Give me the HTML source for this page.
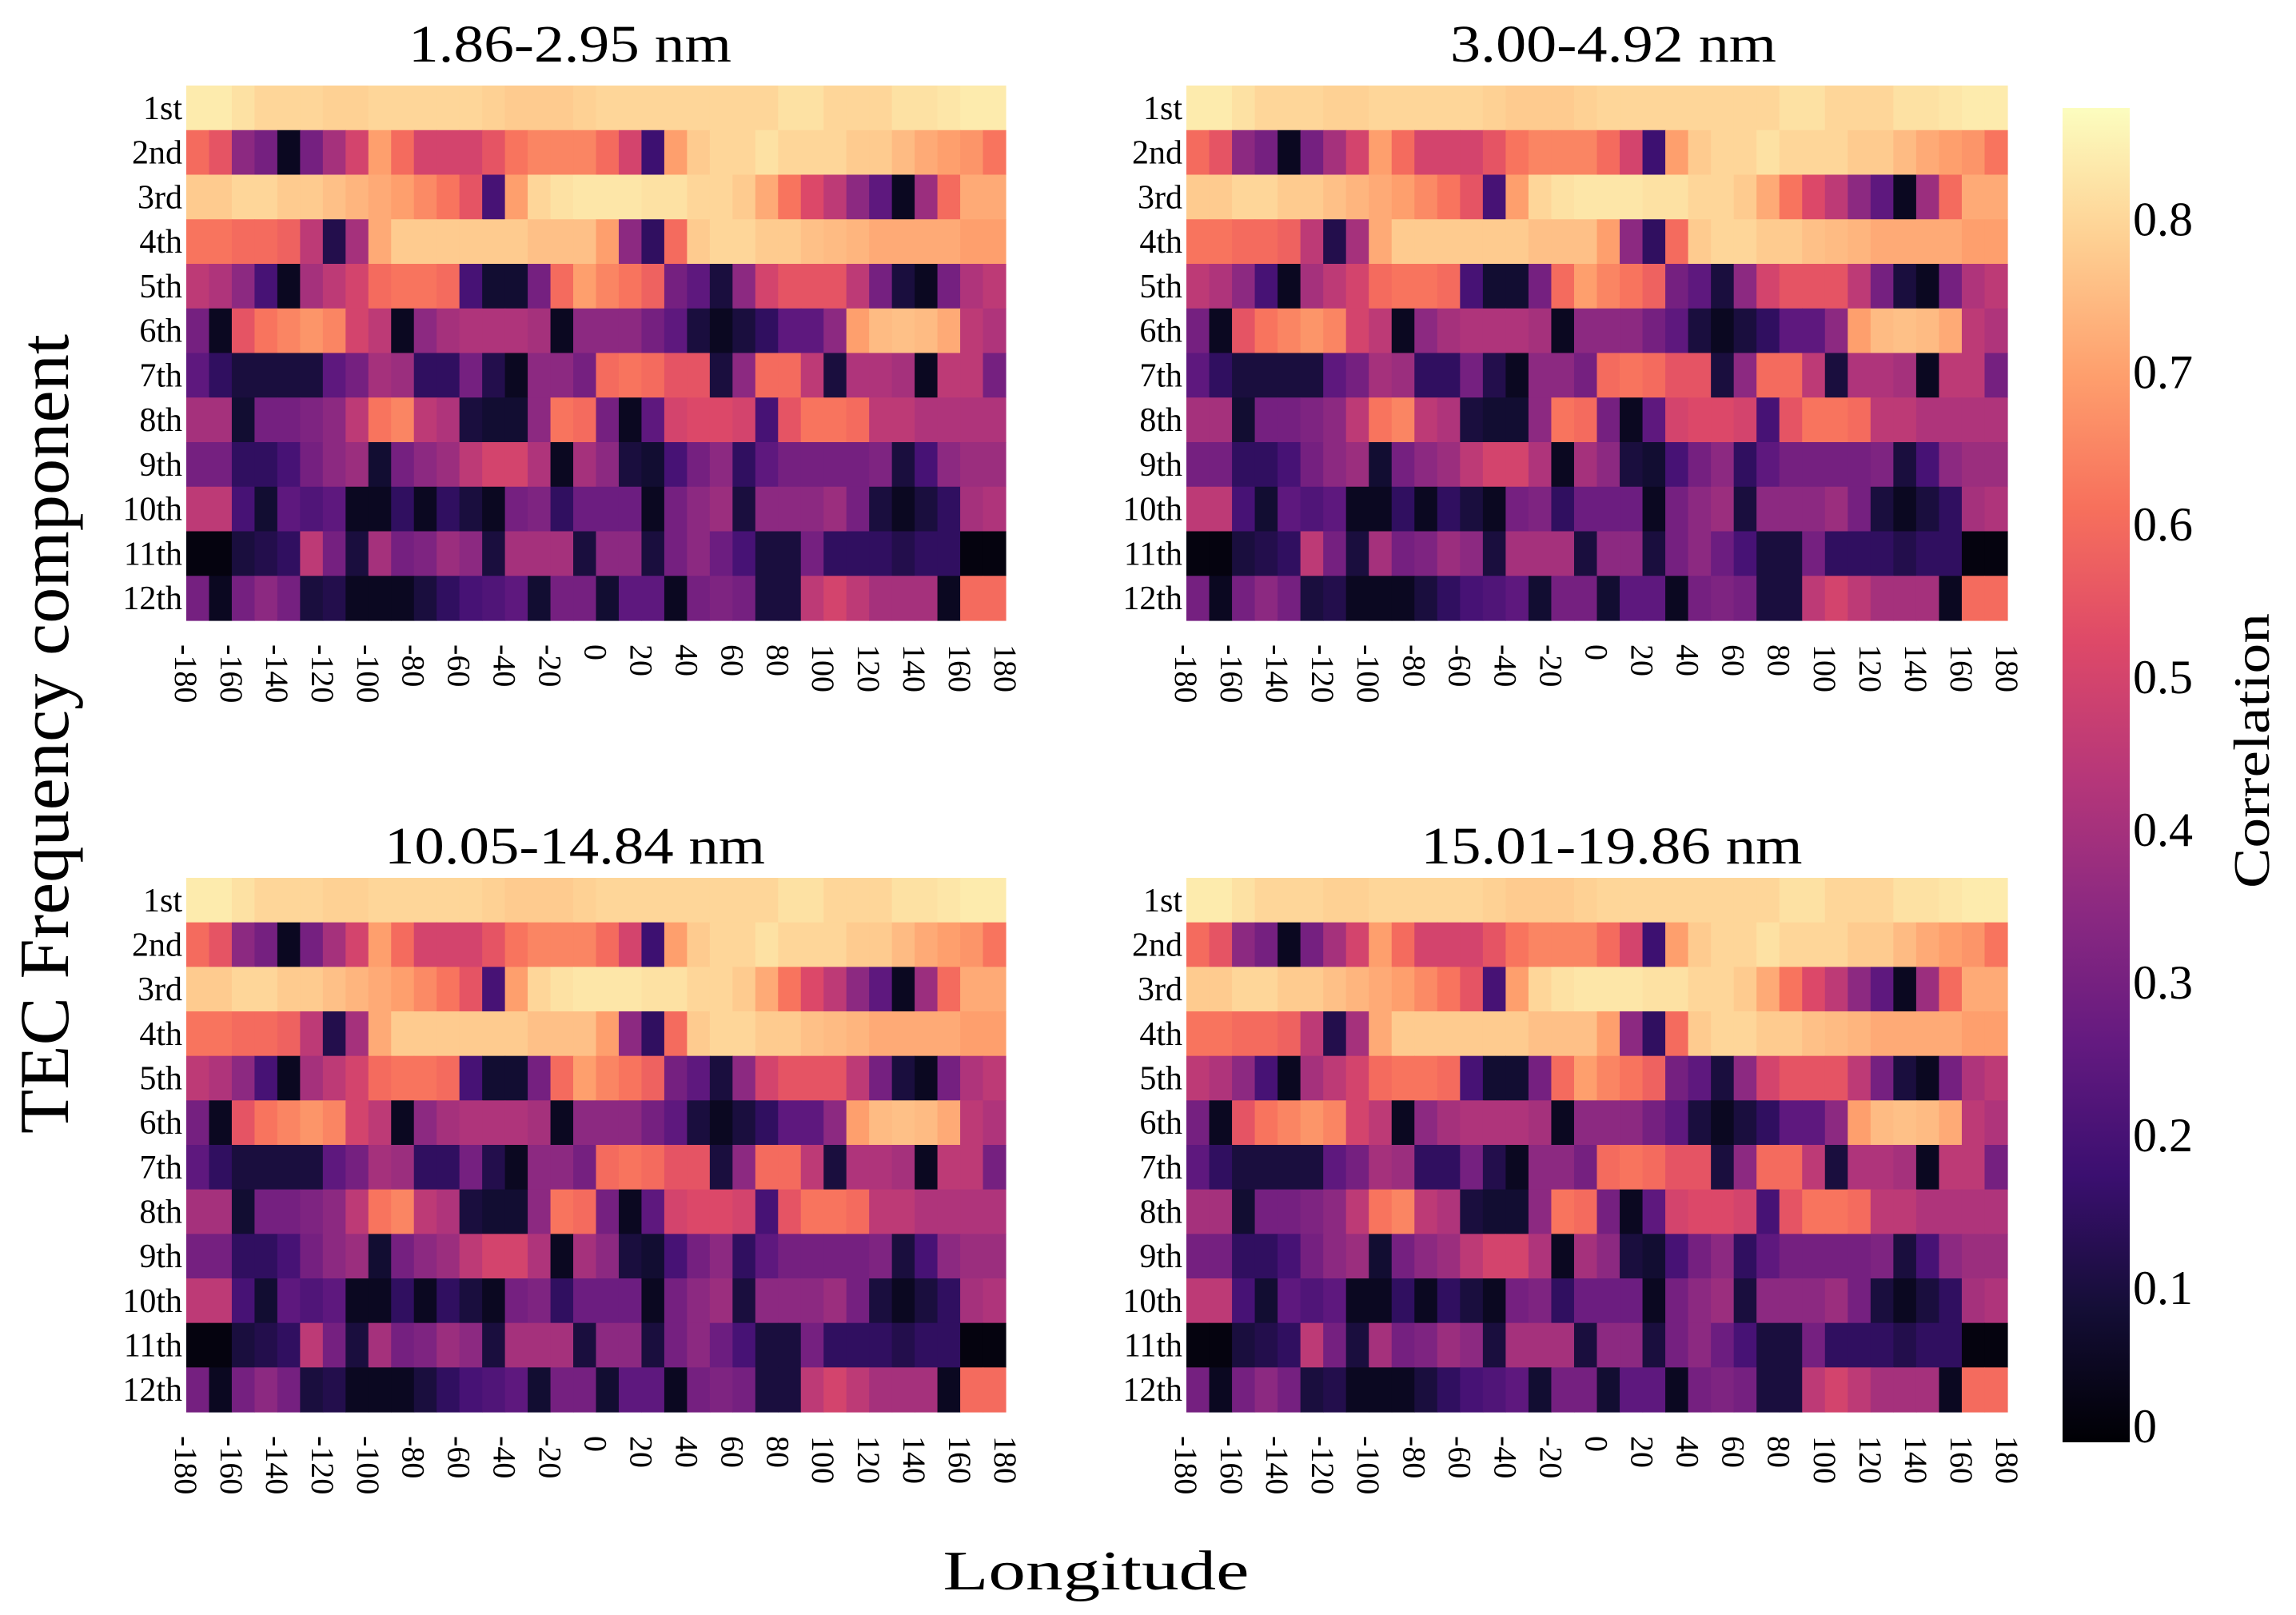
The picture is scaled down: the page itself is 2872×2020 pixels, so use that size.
<!DOCTYPE html>
<html><head><meta charset="utf-8"><style>
html,body{margin:0;padding:0;background:#fff;}
svg{display:block;font-family:"Liberation Serif",serif;}
</style></head><body>
<svg id="chart" width="2872" height="2020" viewBox="0 0 2872 2020">
<defs>
<linearGradient id="magmaGrad" x1="0" y1="1" x2="0" y2="0"></linearGradient>
</defs>
<g id="panels"></g>
<text x="85" y="918" font-size="88" text-anchor="middle" textLength="1000" lengthAdjust="spacingAndGlyphs" transform="rotate(-90 85 918)">TEC Frequency component</text>
<text x="1371" y="1988" font-size="70" text-anchor="middle" textLength="383" lengthAdjust="spacingAndGlyphs">Longitude</text>
<g id="colorbar"></g>
<text x="2838" y="939" font-size="64" text-anchor="middle" textLength="344" lengthAdjust="spacingAndGlyphs" transform="rotate(-90 2838 939)">Correlation</text>
</svg>
<script>
const rowLabels = ["1st","2nd","3rd","4th","5th","6th","7th","8th","9th","10th","11th","12th"];
const lonTicks = [-180,-160,-140,-120,-100,-80,-60,-40,-20,0,20,40,60,80,100,120,140,160,180];
const panelTitles = ["1.86-2.95 nm","3.00-4.92 nm","10.05-14.84 nm","15.01-19.86 nm"];
const cbTicks = [0,0.1,0.2,0.3,0.4,0.5,0.6,0.7,0.8];
const cbMax = 0.874;
const r1 = [.84,.84,.82,.8,.8,.8,.79,.79,.8,.8,.8,.8,.8,.79,.78,.78,.78,.79,.8,.8,.8,.8,.8,.8,.8,.8,.82,.82,.8,.8,.8,.82,.82,.83,.84,.84];
const r2 = [.6,.55,.35,.3,.05,.3,.4,.5,.7,.6,.5,.5,.5,.55,.62,.65,.65,.65,.6,.5,.18,.7,.78,.8,.8,.82,.8,.8,.8,.78,.78,.75,.72,.7,.68,.62];
const r3 = [.78,.78,.8,.8,.78,.78,.76,.74,.72,.7,.66,.62,.55,.2,.7,.8,.82,.83,.83,.83,.82,.82,.8,.8,.78,.72,.62,.52,.45,.35,.25,.05,.38,.6,.72,.72];
const r4 = [.62,.62,.6,.6,.58,.45,.12,.4,.72,.78,.78,.78,.78,.78,.78,.76,.76,.76,.7,.35,.15,.6,.78,.8,.8,.78,.78,.76,.75,.74,.72,.72,.72,.72,.7,.7];
const r5 = [.45,.42,.35,.2,.05,.4,.45,.5,.6,.62,.62,.6,.2,.08,.08,.3,.6,.7,.65,.62,.58,.3,.25,.1,.35,.5,.55,.55,.55,.45,.3,.1,.05,.3,.42,.45];
const r6 = [.3,.05,.55,.62,.65,.68,.65,.5,.45,.05,.35,.4,.42,.42,.42,.4,.05,.35,.35,.35,.3,.25,.1,.05,.1,.15,.25,.25,.35,.7,.75,.76,.75,.72,.45,.42];
const r7 = [.25,.15,.1,.1,.1,.1,.25,.3,.4,.38,.15,.15,.3,.12,.05,.35,.35,.3,.6,.62,.6,.55,.55,.1,.35,.6,.6,.45,.1,.42,.42,.4,.05,.45,.45,.3];
const r8 = [.4,.4,.08,.3,.3,.32,.35,.45,.62,.65,.45,.42,.1,.08,.08,.35,.62,.6,.3,.05,.25,.5,.52,.52,.5,.2,.55,.62,.62,.6,.45,.45,.42,.42,.42,.42];
const r9 = [.3,.3,.15,.15,.2,.3,.35,.38,.08,.3,.35,.38,.45,.5,.5,.42,.05,.4,.35,.1,.08,.2,.3,.35,.15,.25,.3,.3,.3,.3,.32,.1,.2,.35,.38,.38];
const r10 = [.45,.45,.2,.08,.25,.22,.25,.05,.05,.15,.05,.15,.1,.05,.3,.32,.15,.28,.28,.28,.05,.3,.35,.38,.1,.35,.35,.35,.38,.3,.1,.05,.1,.15,.4,.42];
const r11 = [.02,.02,.1,.12,.15,.45,.3,.1,.4,.3,.32,.38,.35,.1,.4,.4,.4,.1,.35,.35,.1,.3,.35,.28,.2,.1,.1,.3,.15,.15,.15,.12,.15,.15,.02,.02];
const r12 = [.3,.05,.3,.35,.3,.1,.12,.05,.05,.05,.1,.15,.2,.22,.25,.08,.3,.3,.08,.25,.25,.05,.3,.32,.3,.1,.1,.45,.5,.45,.4,.4,.4,.05,.6,.6];
const corrP1 = [r1,r2,r3,r4,r5,r6,r7,r8,r9,r10,r11,r12];
const corrP2 = [r1,r2,r3,r4,r5,r6,r7,r8,r9,r10,r11,r12];
const corrP3 = [r1,r2,r3,r4,r5,r6,r7,r8,r9,r10,r11,r12];
const corrP4 = [r1,r2,r3,r4,r5,r6,r7,r8,r9,r10,r11,r12];
const panelData = [corrP1,corrP2,corrP3,corrP4];

const NS="http://www.w3.org/2000/svg";
const magma=[[0,0,0,4],[.1,20,14,54],[.2,59,15,112],[.3,100,26,128],[.4,140,41,129],[.5,183,55,121],[.6,222,73,104],[.7,247,112,92],[.8,254,159,109],[.9,254,207,146],[1,252,253,191]];
function cmap(v){
  let t=Math.max(0,Math.min(1,v/cbMax));
  for(let i=1;i<magma.length;i++){
    if(t<=magma[i][0]){const a=magma[i-1],b=magma[i];const f=(t-a[0])/(b[0]-a[0]);
      return `rgb(${Math.round(a[1]+f*(b[1]-a[1]))},${Math.round(a[2]+f*(b[2]-a[2]))},${Math.round(a[3]+f*(b[3]-a[3]))})`;}
  }
  return "rgb(252,253,191)";
}
function mk(tag,attrs,parent){const e=document.createElementNS(NS,tag);for(const k in attrs)e.setAttribute(k,attrs[k]);parent.appendChild(e);return e;}

const layouts=[{x0:233,x1:1258,y0:107,y1:776,ty:77,tx:713,tl:404},{x0:1484,x1:2511,y0:107,y1:776,ty:77,tx:2018,tl:408},{x0:233,x1:1258,y0:1098,y1:1766,ty:1080,tx:719,tl:476},{x0:1484,x1:2511,y0:1098,y1:1766,ty:1080,tx:2016,tl:477}];
const panelsG=document.getElementById('panels');
panelData.forEach((data,p)=>{
  const L=layouts[p];
  const g=mk('g',{},panelsG);
  
  
  const nRows=data.length, nCols=data[0].length;
  const xScale=lon=>L.x0+(lon+180)/360*(L.x1-L.x0);
  const yScale=r=>L.y0+r/nRows*(L.y1-L.y0);
  const colW=360/nCols;
  data.forEach((row,ri)=>{
    row.forEach((v,ci)=>{
      const xa=xScale(-180+ci*colW), xb=xScale(-180+(ci+1)*colW);
      const c=mk('rect',{x:xa.toFixed(2),y:yScale(ri).toFixed(2),width:(xb-xa+0.6).toFixed(2),height:(yScale(ri+1)-yScale(ri)+0.6).toFixed(2),fill:cmap(v)},g);
      
      
    });
    const t=mk('text',{x:L.x0-5,y:(yScale(ri)+yScale(ri+1))/2+14,'font-size':42,'text-anchor':'end'},g);
    t.textContent=rowLabels[ri];
    
    
  });
  lonTicks.forEach(lon=>{
    const x=xScale(lon);
    const t=mk('text',{x:0,y:0,'font-size':40,transform:`translate(${x-14},${L.y1+30}) rotate(90)`},g);
    t.textContent=String(lon);
    
    
  });
  const tt=mk('text',{x:L.tx,y:L.ty,'font-size':66,'text-anchor':'middle',textLength:L.tl,lengthAdjust:'spacingAndGlyphs'},g);
  tt.textContent=panelTitles[p];
  
  
});

// colorbar
const grad=document.getElementById('magmaGrad');
magma.forEach(s=>{mk('stop',{offset:s[0],'stop-color':`rgb(${s[1]},${s[2]},${s[3]})`},grad);});
const cb=document.getElementById('colorbar');
const cbX=2580, cbW=84, cbTop=135, cbBot=1804;
const cbY=v=>cbBot-v/cbMax*(cbBot-cbTop);
const cbRect=mk('rect',{x:cbX,y:cbTop,width:cbW,height:cbBot-cbTop,fill:'url(#magmaGrad)'},cb);


cbTicks.forEach(v=>{
  const t=mk('text',{x:cbX+cbW+4,y:cbY(v)+(v===0?0:18),'font-size':60},cb);
  t.textContent=v===0?'0':v.toFixed(1);
  
  
});
</script>
</body></html>
